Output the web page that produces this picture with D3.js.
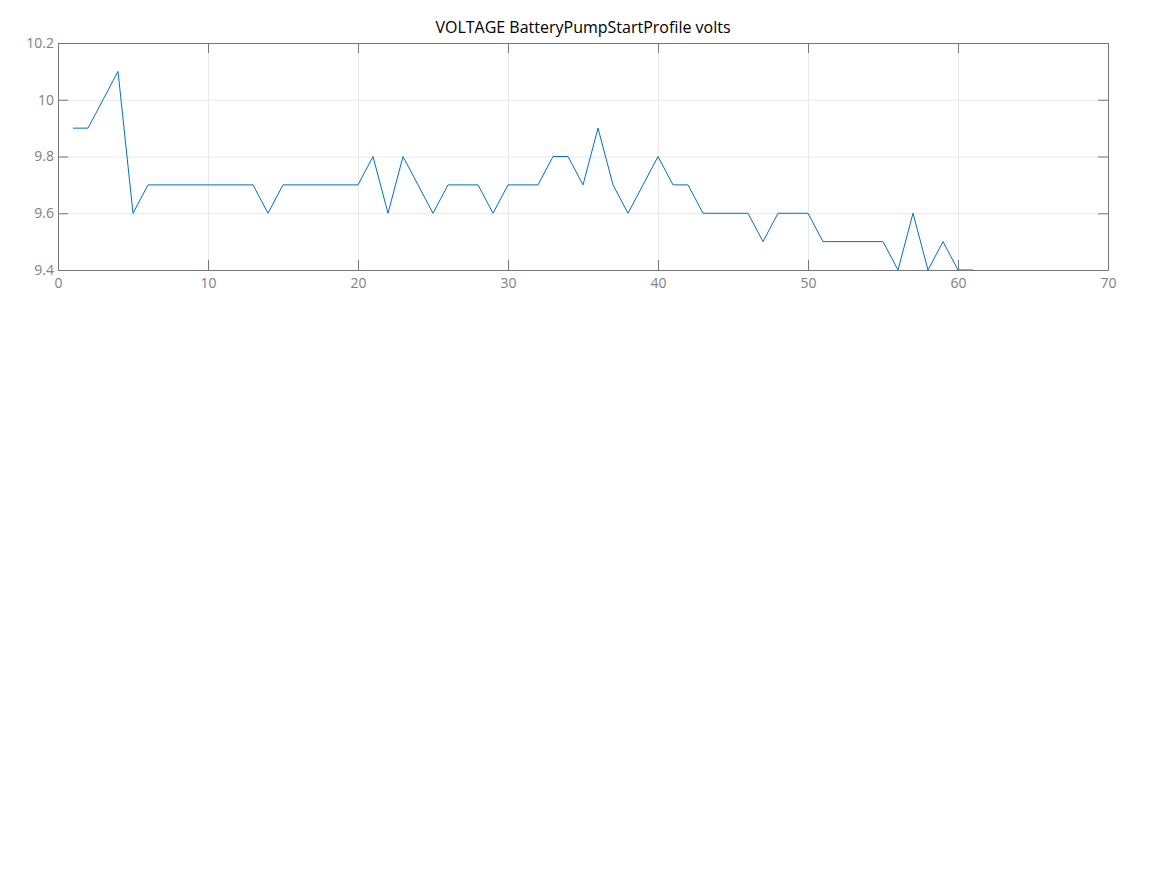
<!DOCTYPE html>
<html>
<head>
<meta charset="utf-8">
<script src="https://cdn.jsdelivr.net/npm/d3@7"></script>
<style>
  body { margin: 0; background: #fff; font-family: "Open Sans", "Noto Sans", sans-serif; }
  .axis text { fill: #808080; font-size: 14px; font-family: "Open Sans", sans-serif; }
  .axis path, .axis line { stroke: #777; }
  .grid line { stroke: #e8e8e8; }
  .grid path { display: none; }
</style>
</head>
<body>
<div id="chart"></div>
<script>
// DATA
var title = "VOLTAGE BatteryPumpStartProfile volts";
var samples = d3.range(1, 62);
var volts = [9.9, 9.9, 10.0, 10.1, 9.6, 9.7, 9.7, 9.7, 9.7, 9.7,
             9.7, 9.7, 9.7, 9.6, 9.7, 9.7, 9.7, 9.7, 9.7, 9.7,
             9.8, 9.6, 9.8, 9.7, 9.6, 9.7, 9.7, 9.7, 9.6, 9.7,
             9.7, 9.7, 9.8, 9.8, 9.7, 9.9, 9.7, 9.6, 9.7, 9.8,
             9.7, 9.7, 9.6, 9.6, 9.6, 9.6, 9.5, 9.6, 9.6, 9.6,
             9.5, 9.5, 9.5, 9.5, 9.5, 9.4, 9.6, 9.4, 9.5, 9.4,
             9.4];
var xTicks = [0, 10, 20, 30, 40, 50, 60, 70];
var yTicks = [9.4, 9.6, 9.8, 10, 10.2];

var margin = { top: 43, right: 59, bottom: 605, left: 58 };
var W = 1167, H = 875;
var width = W - margin.left - margin.right;
var height = H - margin.top - margin.bottom;

var svg = d3.select("#chart").append("svg")
  .attr("width", W)
  .attr("height", H);

var g = svg.append("g")
  .attr("transform", "translate(" + margin.left + "," + margin.top + ")");

var x = d3.scaleLinear().domain([0, 70]).range([0, width]);
var y = d3.scaleLinear().domain([9.4, 10.2]).range([height, 0]);

// gridlines
g.append("g").attr("class", "grid")
  .attr("transform", "translate(0," + height + ")")
  .call(d3.axisBottom(x).tickValues(xTicks).tickSize(-height).tickFormat(""));
g.append("g").attr("class", "grid")
  .call(d3.axisLeft(y).tickValues(yTicks).tickSize(-width).tickFormat(""));

// line
var line = d3.line()
  .x(function(d, i) { return x(samples[i]); })
  .y(function(d) { return y(d); });

g.append("path")
  .datum(volts)
  .attr("fill", "none")
  .attr("stroke", "#0072BD")
  .attr("stroke-width", 1)
  .attr("d", line);

// axes, ticks pointing inward
var tk = 10;
g.append("g").attr("class", "axis")
  .attr("transform", "translate(0," + height + ")")
  .call(d3.axisBottom(x).tickValues(xTicks).tickSizeInner(-tk).tickSizeOuter(0).tickPadding(8));

g.append("g").attr("class", "axis")
  .call(d3.axisTop(x).tickValues(xTicks).tickSizeInner(-tk).tickSizeOuter(0).tickFormat(""));

g.append("g").attr("class", "axis")
  .call(d3.axisLeft(y).tickValues(yTicks).tickSizeInner(-tk).tickSizeOuter(0).tickPadding(4)
    .tickFormat(d3.format("~g")));

g.append("g").attr("class", "axis")
  .attr("transform", "translate(" + width + ",0)")
  .call(d3.axisRight(y).tickValues(yTicks).tickSizeInner(-tk).tickSizeOuter(0).tickFormat(""));

// title
svg.append("text")
  .attr("x", margin.left + width / 2)
  .attr("y", 33)
  .attr("text-anchor", "middle")
  .attr("fill", "#000")
  .style("font-size", "16px")
  .text(title);
</script>
</body>
</html>
